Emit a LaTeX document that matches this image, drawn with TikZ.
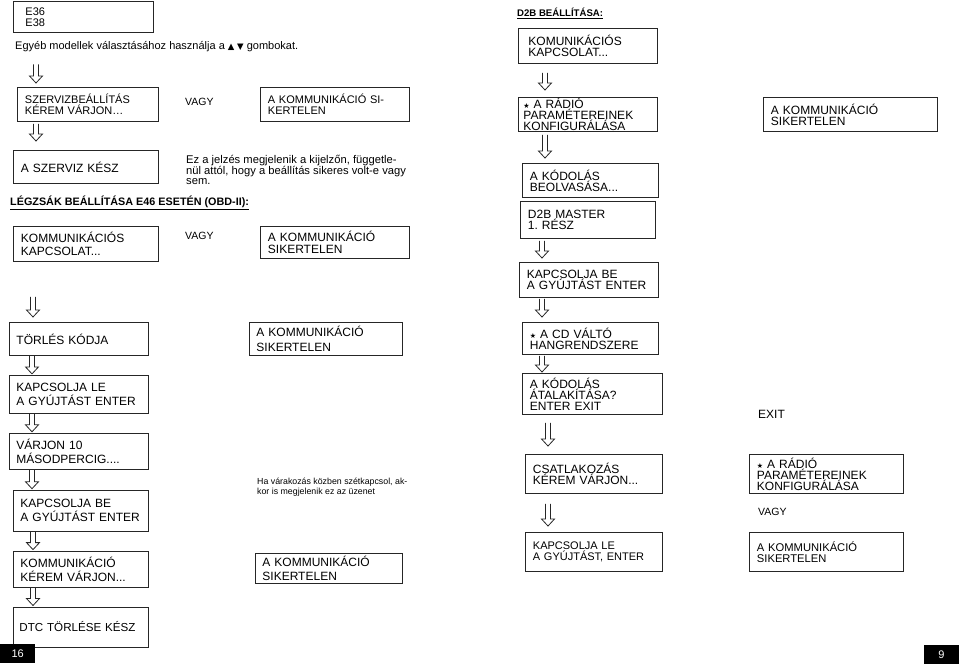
\documentclass[tikz,border=0pt]{standalone}
\usepackage{fontspec}
\setmainfont{Liberation Sans}
\newfontfamily\symfont{DejaVu Sans}
\usetikzlibrary{positioning, calc}
\newcommand{\smallstar}{{\symfont\fontsize{7}{7}\selectfont ★}}
\tikzset{
  lcd box/.style={
    rectangle, draw=black!85, line width=0.9pt,
    anchor=north west, align=left,
    inner xsep=7.5pt, inner ysep=0.5pt,
    font=\fontsize{12}{12.3}\selectfont
  },
  lcd small/.style={
    lcd box, font=\fontsize{11}{11}\selectfont
  },
  lcd low/.style={
    lcd box, inner xsep=7pt, font=\fontsize{12}{14.3}\selectfont
  },
  lcd tight/.style={
    lcd box, font=\fontsize{12}{11}\selectfont
  },
  note text/.style={
    anchor=north west, align=left, inner sep=0pt,
    font=\fontsize{11.2}{10.6}\selectfont
  },
  head text/.style={
    anchor=west, inner sep=0pt, font=\bfseries\fontsize{10.8}{12}\selectfont
  },
  or text/.style={
    anchor=west, inner sep=0pt, font=\fontsize{10.5}{12}\selectfont
  },
  page num/.style={
    fill=black, text=white, minimum width=35pt, minimum height=19pt,
    inner sep=0pt, font=\fontsize{11}{12}\selectfont
  },
  down arrow/.style={
    draw=black!85, line width=0.8pt,
    to path={let \p1=(\tikztostart), \p2=(\tikztotarget) in
      (\x1-2.5pt,\y1) -- (\x1-2.5pt,\y2+7pt) -- (\x1-6.5pt,\y2+7pt)
      -- (\x1,\y2) -- (\x1+6.5pt,\y2+7pt) -- (\x1+2.5pt,\y2+7pt) -- (\x1+2.5pt,\y1)}
  }
}

\begin{document}
\begin{tikzpicture}[x=1pt, y=-1pt, node distance=19pt]
  \useasboundingbox (0,0) rectangle (959,667);

  % Left page: service setting
  \node (e36) [lcd small, inner xsep=12pt, text width=116pt, minimum height=31pt] at (13,1) {E36\\E38};
  \node (egyeb) [or text, font=\fontsize{11}{12}\selectfont] at (15,47)
    {Egyéb modellek választásához használja a {\symfont\fontsize{8.5}{9}\selectfont ▲ ▼} gombokat.};
  \node (szerviz) [lcd small, text width=126pt, minimum height=34pt] at (17,87) {SZERVIZBEÁLLÍTÁS\\KÉREM VÁRJON…};
  \node (vagy1) [or text] at (185,102) {VAGY};
  \node (sikert1) [lcd small, text width=134pt, minimum height=34pt] at (260,87) {A KOMMUNIKÁCIÓ SI-\\KERTELEN};
  \node (kesz) [lcd box, text width=130pt, minimum height=33pt] at (13,150) {A SZERVIZ KÉSZ};
  \node (note1) [note text] at (186,155)
    {Ez a jelzés megjelenik a kijelzőn, függetle-\\nül attól, hogy a beállítás sikeres volt-e vagy\\sem.};

  % Left page: airbag (OBD-II)
  \node (legzsak) [head text] at (10,203) {\underline{LÉGZSÁK BEÁLLÍTÁSA E46 ESETÉN (OBD-II):}};
  \node (komm) [lcd box, text width=130pt, minimum height=35pt] at (13,226) {KOMMUNIKÁCIÓS\\KAPCSOLAT...};
  \node (vagy2) [or text] at (185,236) {VAGY};
  \node (sikert2) [lcd box, text width=134pt, minimum height=32pt] at (260,226) {A KOMMUNIKÁCIÓ\\SIKERTELEN};

  \node (torles) [lcd low, text width=125pt, minimum height=33pt] at (9,322) {TÖRLÉS KÓDJA};
  \node (kapcsle) [lcd low, text width=125pt, minimum height=38pt,
    below=of torles.south west, anchor=north west] {KAPCSOLJA LE\\A GYÚJTÁST ENTER};
  \node (varjon) [lcd low, text width=125pt, minimum height=36pt,
    below=of kapcsle.south west, anchor=north west] {VÁRJON 10\\MÁSODPERCIG....};
  \node (kapcsbe) [lcd low, text width=121pt, minimum height=41pt,
    below=20pt of varjon.south west, xshift=4pt, anchor=north west] {KAPCSOLJA BE\\A GYÚJTÁST ENTER};
  \node (kommv) [lcd low, text width=121pt, minimum height=36pt,
    below=of kapcsbe.south west, anchor=north west] {KOMMUNIKÁCIÓ\\KÉREM VÁRJON...};
  \node (dtc) [lcd low, inner xsep=6pt, font=\fontsize{11.6}{14}\selectfont, text width=123pt, minimum height=40pt,
    below=of kommv.south west, anchor=north west] {DTC TÖRLÉSE KÉSZ};

  \node (sikert3) [lcd low, text width=139pt, minimum height=33pt] at (249,322) {A KOMMUNIKÁCIÓ\\SIKERTELEN};
  \node (note2) [note text, font=\fontsize{8.8}{10}\selectfont] at (257,478)
    {Ha várakozás közben szétkapcsol, ak-\\kor is megjelenik ez az üzenet};
  \node (sikert4) [lcd low, text width=133pt, minimum height=30pt] at (255,553) {A KOMMUNIKÁCIÓ\\SIKERTELEN};

  \node (p16) [page num, anchor=north west] at (0,644) {16};

  % Right page: D2B
  \node (d2b) [head text, font=\bfseries\fontsize{9.6}{11}\selectfont] at (517,13) {\underline{D2B BEÁLLÍTÁSA:}};
  \node (kkap) [lcd tight, inner xsep=10pt, text width=119pt, minimum height=35pt] at (518,28) {KOMUNIKÁCIÓS\\KAPCSOLAT...};
  \node (radio1) [lcd tight, inner xsep=5pt, text width=129pt, minimum height=34pt] at (518,97)
    {\smallstar\ A RÁDIÓ\\PARAMÉTEREINEK\\KONFIGURÁLÁSA};
  \node (sikert5) [lcd tight, text width=159pt, minimum height=34pt] at (763,97) {A KOMMUNIKÁCIÓ\\SIKERTELEN};
  \node (kodbe) [lcd tight, text width=121pt, minimum height=34pt] at (522,163) {A KÓDOLÁS\\BEOLVASÁSA...};
  \node (master) [lcd tight, text width=120pt, minimum height=37pt] at (520,201) {D2B MASTER\\1.\ RÉSZ};
  \node (kapcsbe2) [lcd tight, text width=124pt, minimum height=35pt] at (519,262) {KAPCSOLJA BE\\A GYÚJTÁST ENTER};
  \node (cd) [lcd tight, text width=121pt, minimum height=32pt] at (522,322)
    {\smallstar\ A CD VÁLTÓ\\HANGRENDSZERE};
  \node (kodat) [lcd tight, text width=125pt, minimum height=41pt] at (522,373) {A KÓDOLÁS\\ÁTALAKÍTÁSA?\\ENTER EXIT};
  \node (exit) [or text, font=\fontsize{12}{12}\selectfont] at (758,414) {EXIT};
  \node (csatl) [lcd tight, text width=122pt, minimum height=39pt] at (525,454) {CSATLAKOZÁS\\KÉREM VÁRJON...};
  \node (radio2) [lcd tight, text width=139pt, minimum height=39pt] at (749,454)
    {\smallstar\ A RÁDIÓ\\PARAMÉTEREINEK\\KONFIGURÁLÁSA};
  \node (vagy3) [or text] at (758,512) {VAGY};
  \node (kapcsle2) [lcd tight, font=\fontsize{11}{11}\selectfont, text width=122pt, minimum height=39pt] at (525,532)
    {KAPCSOLJA LE\\A GYÚJTÁST, ENTER};
  \node (sikert6) [lcd tight, font=\fontsize{11.2}{11}\selectfont, text width=139pt, minimum height=39pt] at (749,532)
    {A KOMMUNIKÁCIÓ\\SIKERTELEN};

  \node (p9) [page num, anchor=north east] at (959,645) {9};

  % hollow arrows, left page
  \draw [down arrow] ([xshift=21pt,yshift=-12pt]egyeb.south west) to ([yshift=4pt]szerviz.north west);
  \draw [down arrow] ([xshift=19pt,yshift=-2pt]szerviz.south west) to ([yshift=9pt]kesz.north west);
  \draw [down arrow] ([xshift=20pt,yshift=-35pt]komm.south west) to ([yshift=5pt]torles.north west);
  \draw [down arrow] ([xshift=23pt]torles.south west) to ([yshift=1pt]kapcsle.north west);
  \draw [down arrow] ([xshift=23pt]kapcsle.south west) to ([yshift=1pt]varjon.north west);
  \draw [down arrow] ([xshift=23pt]varjon.south west) to ([yshift=1pt]kapcsbe.north west);
  \draw [down arrow] ([xshift=20pt]kapcsbe.south west) to ([yshift=1pt]kommv.north west);
  \draw [down arrow] ([xshift=20pt]kommv.south west) to ([yshift=1pt]dtc.north west);

  % hollow arrows, right page
  \draw [down arrow] ([xshift=27pt,yshift=-9pt]kkap.south west) to ([yshift=7pt]radio1.north west);
  \draw [down arrow] ([xshift=27pt,yshift=-3pt]radio1.south west) to ([yshift=5pt]kodbe.north west);
  \draw [down arrow] ([xshift=22pt,yshift=-2pt]master.south west) to ([yshift=4pt]kapcsbe2.north west);
  \draw [down arrow] ([xshift=23pt,yshift=-1pt]kapcsbe2.south west) to ([yshift=5pt]cd.north west);
  \draw [down arrow] ([xshift=20pt,yshift=-1pt]cd.south west) to ([yshift=1pt]kodat.north west);
  \draw [down arrow] ([xshift=26pt,yshift=-8pt]kodat.south west) to ([yshift=8pt]csatl.north west);
  \draw [down arrow] ([xshift=23pt,yshift=-10pt]csatl.south west) to ([yshift=6pt]kapcsle2.north west);
\end{tikzpicture}
\end{document}
